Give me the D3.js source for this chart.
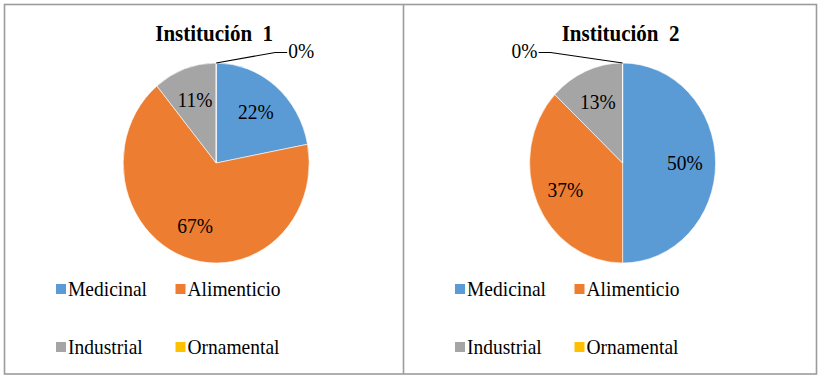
<!DOCTYPE html>
<html>
<head>
<meta charset="utf-8">
<script src="https://cdn.jsdelivr.net/npm/d3@7"></script>
<style>
  html, body { margin: 0; padding: 0; background: #fff; }
  svg { display: block; }
  text { font-family: "Liberation Serif", "Times New Roman", serif; fill: #000; }
</style>
</head>
<body>
<svg id="chart" width="822" height="381"></svg>
<script>
// ---- data ----
const categories = ["Medicinal", "Alimenticio", "Industrial", "Ornamental"];
const colors = ["#5B9BD5", "#ED7D31", "#A5A5A5", "#FFC000"];
const titles = ["Institución  1", "Institución  2"];
const institucion1 = [22, 67, 11, 0];
const institucion2 = [50, 37, 13, 0];
const seriesList = [institucion1, institucion2];

// ---- layout ----
const W = 822, H = 381;
const svg = d3.select("#chart");
svg.append("rect").attr("width", W).attr("height", H).attr("fill", "#fff");

const panels = [
  { x: 4.5, w: 399, zeroSide: 1 },
  { x: 403.5, w: 413, zeroSide: -1 }
];

const ry = 100, rx = 93, cy = 163;
const stretch = 1.075;
const pie = d3.pie().sort(null).value(d => d);
const arc = d3.arc().innerRadius(0).outerRadius(ry);
const labelArc = d3.arc().innerRadius(ry * 0.67).outerRadius(ry * 0.67);
const edgeArc = d3.arc().innerRadius(ry).outerRadius(ry);
const sx = rx / ry;

function addText(g, x, y, str, opts) {
  const t = g.append("text")
    .attr("transform", `translate(${x},${y}) scale(1,${stretch})`)
    .attr("dy", opts.dy || null)
    .attr("text-anchor", opts.anchor || "start")
    .attr("font-size", opts.size)
    .style("white-space", "pre")
    .text(str);
  if (opts.bold) t.attr("font-weight", "bold");
  return t;
}

panels.forEach((p, pi) => {
  const values = seriesList[pi];
  const cx = p.x + p.w * 0.5305;
  const g = svg.append("g");

  // title
  addText(g, cx - 2, 41, titles[pi], { anchor: "middle", size: 21, bold: true });

  const arcs = pie(values);

  // slices
  const pg = g.append("g").attr("transform", `translate(${cx},${cy}) scale(${sx},1)`);
  pg.selectAll("path")
    .data(arcs)
    .join("path")
    .attr("d", arc)
    .attr("fill", (d, i) => colors[i])
    .attr("stroke", "#fff")
    .attr("stroke-width", 0.6)
    .attr("vector-effect", "non-scaling-stroke");

  // labels
  arcs.forEach((d, i) => {
    if (d.data > 0) {
      const [lx, ly] = labelArc.centroid(d);
      addText(g, cx + lx * sx, cy + ly, d.data + "%", { anchor: "middle", size: 19.5, dy: "0.35em" });
    } else {
      const [ex, ey] = edgeArc.centroid(d);
      const x0 = cx + ex * sx, y0 = cy + ey;
      const s = p.zeroSide;
      const len = s > 0 ? 71 : 84;
      const pts = [[x0, y0], [x0 + s * (len - 12), y0 - 10.5], [x0 + s * len, y0 - 10.5]];
      g.append("path")
        .attr("d", d3.line()(pts))
        .attr("fill", "none")
        .attr("stroke", "#000")
        .attr("stroke-width", 1.1);
      addText(g, x0 + s * (len + 1), y0 - 12, d.data + "%",
        { anchor: s > 0 ? "start" : "end", size: 19.5, dy: "0.35em" });
    }
  });

  // legend
  const lx0 = p.x + 51.5;
  const colW = 119.5;
  const rowY = [289, 347];
  categories.forEach((c, i) => {
    const col = i % 2, row = Math.floor(i / 2);
    const x = lx0 + col * colW;
    const y = rowY[row];
    g.append("rect")
      .attr("x", x)
      .attr("y", y - 5)
      .attr("width", 10)
      .attr("height", 10)
      .attr("fill", colors[i]);
    addText(g, x + 12, y, c, { size: 19.5, dy: "0.35em" });
  });
});

// borders
svg.append("rect")
  .attr("x", 4.5).attr("y", 4.5)
  .attr("width", 812).attr("height", 369.5)
  .attr("fill", "none")
  .attr("stroke", "#9c9c9c")
  .attr("stroke-width", 1.6);
svg.append("line")
  .attr("x1", 403.5).attr("x2", 403.5)
  .attr("y1", 4.5).attr("y2", 374)
  .attr("stroke", "#9c9c9c")
  .attr("stroke-width", 1.6);
</script>
</body>
</html>
